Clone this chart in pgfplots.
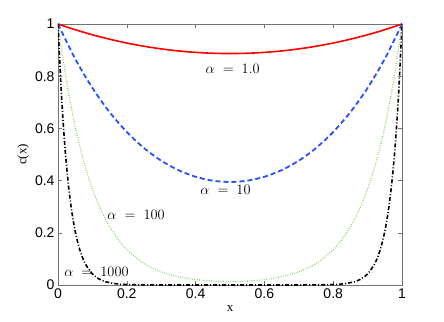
\documentclass[border=0pt]{standalone}
\usepackage[no-math]{fontspec}
\setmainfont{Liberation Serif}
\newfontfamily\ticksf{Liberation Sans}
\usepackage{pgfplots}
\pgfplotsset{compat=1.18}
\definecolor{framegray}{rgb}{0.45,0.45,0.45}
\definecolor{cblue}{RGB}{40,80,255}
\definecolor{cgreen}{RGB}{120,200,90}

\begin{document}
\begin{tikzpicture}
\begin{axis}[
  name=ax,
  scale only axis,
  width=344pt, height=261pt,
  xmin=0, xmax=1, ymin=0, ymax=1,
  xtick={0,0.2,0.4,0.6,0.8,1},
  ytick={0,0.2,0.4,0.6,0.8,1},
  axis line style={framegray},
  tick style={framegray, thin},
  major tick length=4pt,
  /pgf/number format/assume math mode=true,
  ticklabel style={font=\ticksf\fontsize{14}{16}\selectfont},
  xlabel={x}, ylabel={c(x)},
  label style={font=\fontsize{13}{15}\selectfont},
  ylabel style={yshift=-1pt},
]
% alpha = 1
\addplot[red, line width=1.6pt, smooth] coordinates {
  (0,1)(0.05,0.97813)(0.1,0.95872)(0.15,0.94169)(0.2,0.92703)(0.25,0.91467)
  (0.3,0.90461)(0.35,0.89682)(0.4,0.89125)(0.45,0.88793)(0.5,0.88682)
  (0.55,0.88793)(0.6,0.89125)(0.65,0.89682)(0.7,0.90461)(0.75,0.91467)
  (0.8,0.92703)(0.85,0.94169)(0.9,0.95872)(0.95,0.97813)(1,1)
};
% alpha = 10
\addplot[cblue, line width=1.8pt, dash pattern=on 5pt off 3pt, smooth] coordinates {
  (0,1)(0.05,0.86665)(0.1,0.75501)(0.15,0.66228)(0.2,0.58615)(0.25,0.52470)
  (0.3,0.47639)(0.35,0.44003)(0.4,0.41468)(0.45,0.39972)(0.5,0.39477)
  (0.55,0.39972)(0.6,0.41468)(0.65,0.44003)(0.7,0.47639)(0.75,0.52470)
  (0.8,0.58615)(0.85,0.66228)(0.9,0.75501)(0.95,0.86665)(1,1)
};
% alpha = 100
\addplot[cgreen, line width=1.1pt, dash pattern=on 0.8pt off 1.6pt, smooth] coordinates {
  (0,1)(0.025,0.77882)(0.05,0.60658)(0.075,0.47244)(0.1,0.36799)(0.125,0.28665)
  (0.15,0.22332)(0.175,0.17403)(0.2,0.13566)(0.25,0.08263)(0.3,0.05070)
  (0.35,0.03170)(0.4,0.02079)(0.45,0.01520)(0.5,0.01348)
  (0.55,0.01520)(0.6,0.02079)(0.65,0.03170)(0.7,0.05070)(0.75,0.08263)
  (0.8,0.13566)(0.825,0.17403)(0.85,0.22332)(0.875,0.28665)(0.9,0.36799)
  (0.925,0.47244)(0.95,0.60658)(0.975,0.77882)(1,1)
};
% alpha = 1000
\addplot[black, line width=1.6pt, dash pattern=on 4pt off 2pt on 1pt off 2pt, smooth] coordinates {
  (0,1)(0.01,0.72889)(0.02,0.53129)(0.03,0.38725)(0.04,0.28226)(0.05,0.20574)
  (0.06,0.14996)(0.07,0.10930)(0.08,0.07967)(0.1,0.04232)(0.12,0.02249)
  (0.14,0.01194)(0.17,0.00463)(0.2,0.00179)(0.3,0.00008)(0.5,0)
  (0.7,0.00008)(0.8,0.00179)(0.83,0.00463)(0.86,0.01194)(0.88,0.02249)
  (0.9,0.04232)(0.92,0.07967)(0.93,0.10930)(0.94,0.14996)(0.95,0.20574)
  (0.96,0.28226)(0.97,0.38725)(0.98,0.53129)(0.99,0.72889)(1,1)
};
\node[font=\fontsize{14}{16}\selectfont] at (axis cs:0.508,0.83) {$\alpha\;=\;1.0$};
\node[font=\fontsize{14}{16}\selectfont] at (axis cs:0.487,0.363) {$\alpha\;=\;10$};
\node[font=\fontsize{14}{16}\selectfont] at (axis cs:0.227,0.267) {$\alpha\;=\;100$};
\node[font=\fontsize{14}{16}\selectfont] at (axis cs:0.112,0.05) {$\alpha\;=\;1000$};
\end{axis}
\path (ax.south west) ++(-58pt,-36pt) rectangle ([shift={(42pt,24pt)}]ax.north east);
\end{tikzpicture}
\end{document}
